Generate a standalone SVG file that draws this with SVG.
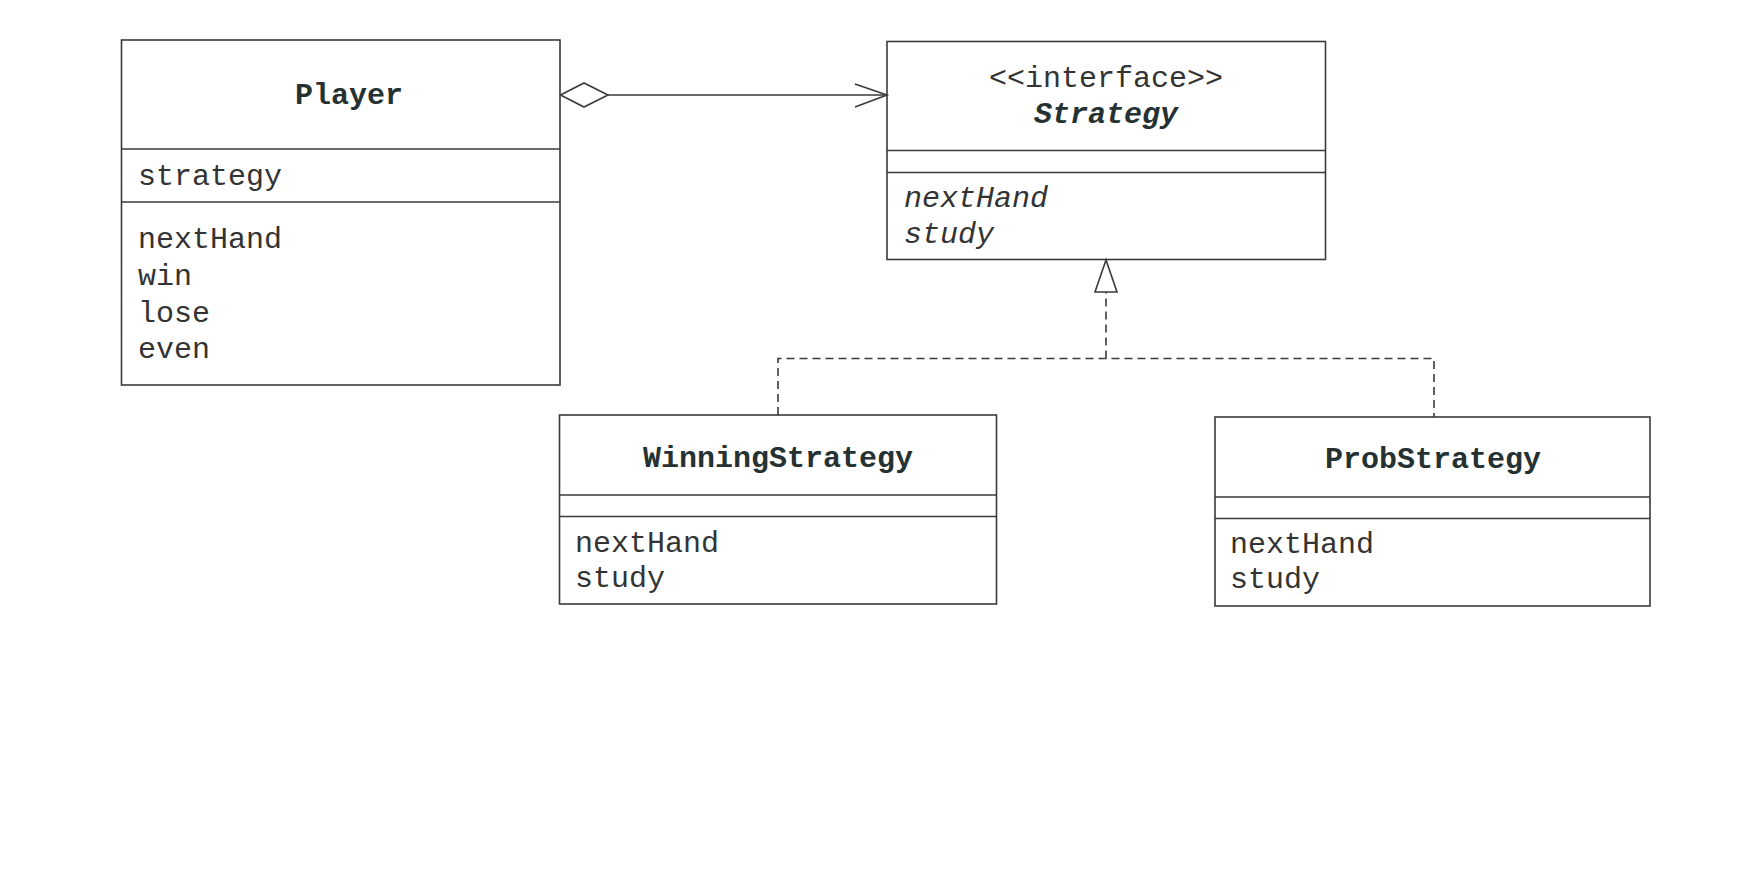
<svg xmlns="http://www.w3.org/2000/svg" width="1746" height="882" viewBox="0 0 1746 882">
<defs>
<style>
.box{fill:#fff;stroke:#3a3a3a;stroke-width:1.6}
.sep{stroke:#3a3a3a;stroke-width:1.6}
.t{font-family:"Liberation Mono","DejaVu Sans Mono",monospace;font-size:30px;fill:#333}
.b{font-weight:bold;fill:#263232}
.i{font-style:italic}
.c{text-anchor:middle}
.con{fill:none;stroke:#3a3a3a;stroke-width:1.6}
.dash{stroke-dasharray:8 5}
</style>
</defs>
<rect width="1746" height="882" fill="#fff"/>
<g id="Player">
<rect class="box" x="121.5" y="40" width="438.5" height="345"/>
<line class="sep" x1="121.5" y1="149" x2="560" y2="149"/>
<line class="sep" x1="121.5" y1="202" x2="560" y2="202"/>
<text class="t b c" x="349" y="104">Player</text>
<text class="t" x="138" y="185">strategy</text>
<text class="t" x="138" y="248">nextHand</text>
<text class="t" x="138" y="285">win</text>
<text class="t" x="138" y="322">lose</text>
<text class="t" x="138" y="358">even</text>
</g>
<g id="Strategy">
<rect class="box" x="887" y="41.5" width="438.5" height="218"/>
<line class="sep" x1="887" y1="150.5" x2="1325.5" y2="150.5"/>
<line class="sep" x1="887" y1="172.5" x2="1325.5" y2="172.5"/>
<text class="t c" x="1106" y="87">&lt;&lt;interface&gt;&gt;</text>
<text class="t b i c" x="1106" y="123">Strategy</text>
<text class="t i" x="904" y="207">nextHand</text>
<text class="t i" x="904" y="243">study</text>
</g>
<g id="WinningStrategy">
<rect class="box" x="559.5" y="415" width="437" height="189"/>
<line class="sep" x1="559.5" y1="495" x2="996.5" y2="495"/>
<line class="sep" x1="559.5" y1="516.5" x2="996.5" y2="516.5"/>
<text class="t b c" x="778" y="467">WinningStrategy</text>
<text class="t" x="575" y="552">nextHand</text>
<text class="t" x="575" y="587">study</text>
</g>
<g id="ProbStrategy">
<rect class="box" x="1215" y="417" width="435" height="189"/>
<line class="sep" x1="1215" y1="497" x2="1650" y2="497"/>
<line class="sep" x1="1215" y1="518.5" x2="1650" y2="518.5"/>
<text class="t b c" x="1433" y="468">ProbStrategy</text>
<text class="t" x="1230" y="553">nextHand</text>
<text class="t" x="1230" y="588">study</text>
</g>
<g id="connectors">
<polygon class="con" points="560.5,95 584,83 608,95 584,107" fill="#fff"/>
<line class="con" x1="608" y1="95" x2="887" y2="95"/>
<polyline class="con" points="855,84 887,95 855,107"/>
<polyline class="con dash" points="778,415 778,358.5 1434,358.5 1434,417"/>
<line class="con dash" x1="1106" y1="358.5" x2="1106" y2="292"/>
<polygon class="con" points="1106,260 1095,292 1117,292" fill="#fff"/>
</g>
</svg>
